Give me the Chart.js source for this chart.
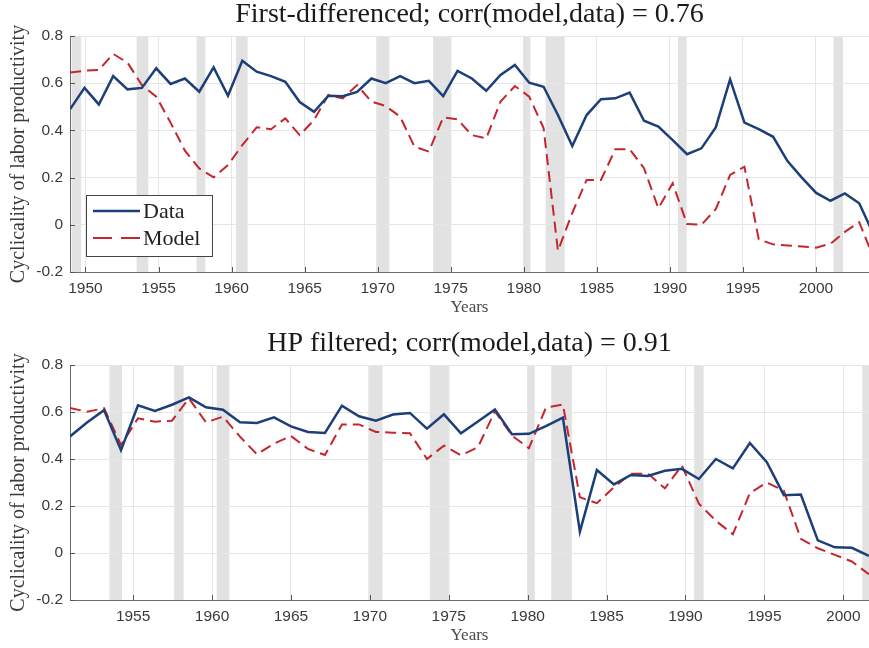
<!DOCTYPE html>
<html>
<head>
<meta charset="utf-8">
<script src="https://cdn.jsdelivr.net/npm/chart.js@4.4.0/dist/chart.umd.min.js"></script>
<style>
    body { margin: 0; background: #fff; }
    .painel { width: 869px; height: 324px; }
</style>
</head>
<body>
<div class="painel"><canvas id="graficoFD" width="869" height="324"></canvas></div>
<div class="painel"><canvas id="graficoHP" width="869" height="324"></canvas></div>
<script>
// painel de cima: first-differenced (57 janelas)
var fdInicio = 1948.95;
var fdPasso = 0.982;
var fdDados = [0.49, 0.58, 0.51, 0.63, 0.574, 0.58, 0.663, 0.597, 0.62, 0.564,
    0.667, 0.547, 0.695, 0.649, 0.63, 0.606, 0.52, 0.479, 0.547, 0.545,
    0.563, 0.62, 0.60, 0.63, 0.60, 0.61, 0.545, 0.652, 0.62, 0.568,
    0.635, 0.677, 0.602, 0.585, 0.465, 0.334, 0.465, 0.532, 0.536, 0.56,
    0.441, 0.416, 0.359, 0.299, 0.324, 0.413, 0.616, 0.433, 0.405, 0.373,
    0.27, 0.2, 0.135, 0.102, 0.133, 0.091, -0.04];
var fdModelo = [0.645, 0.653, 0.656, 0.724, 0.687, 0.592, 0.543, 0.433, 0.314, 0.239,
    0.201, 0.253, 0.338, 0.413, 0.405, 0.451, 0.38, 0.444, 0.55, 0.536,
    0.592, 0.522, 0.503, 0.458, 0.331, 0.31, 0.455, 0.447, 0.38, 0.366,
    0.522, 0.588, 0.543, 0.41, -0.11, 0.05, 0.19, 0.19, 0.32, 0.32,
    0.24, 0.07, 0.176, 0.003, 0.0, 0.066, 0.211, 0.246, -0.062, -0.083,
    -0.088, -0.092, -0.097, -0.08, -0.03, 0.011, -0.14];
var fdTicks = [1950, 1955, 1960, 1965, 1970, 1975, 1980, 1985, 1990, 1995, 2000];

// painel de baixo: HP filtered (48 janelas)
var hpInicio = 1951.0;
var hpPasso = 1.077;
var hpDados = [0.496, 0.555, 0.608, 0.438, 0.628, 0.605, 0.631, 0.662, 0.62, 0.61,
    0.556, 0.553, 0.577, 0.539, 0.515, 0.511, 0.627, 0.582, 0.563, 0.589,
    0.596, 0.529, 0.59, 0.509, 0.56, 0.611, 0.505, 0.507, 0.54, 0.576,
    0.091, 0.353, 0.292, 0.332, 0.328, 0.35, 0.358, 0.315, 0.4, 0.36,
    0.468, 0.386, 0.246, 0.249, 0.054, 0.024, 0.022, -0.012];
var hpModelo = [0.617, 0.601, 0.616, 0.46, 0.573, 0.559, 0.563, 0.658, 0.556, 0.58,
    0.495, 0.42, 0.465, 0.498, 0.443, 0.417, 0.547, 0.547, 0.515, 0.512,
    0.51, 0.40, 0.457, 0.416, 0.45, 0.603, 0.5, 0.446, 0.618, 0.632,
    0.237, 0.212, 0.28, 0.337, 0.338, 0.275, 0.372, 0.21, 0.137, 0.08,
    0.255, 0.3, 0.265, 0.06, 0.02, -0.008, -0.036, -0.09];
var hpTicks = [1955, 1960, 1965, 1970, 1975, 1980, 1985, 1990, 1995, 2000];

var yTicks = [-0.2, 0, 0.2, 0.4, 0.6, 0.8];

// recessoes (faixas cinza)
var recInicio = [1949.05, 1953.5, 1957.6, 1960.3, 1969.9, 1973.8, 1980.0, 1981.5, 1990.55, 2001.2];
var recFim = [1949.7, 1954.3, 1958.2, 1961.1, 1970.8, 1975.05, 1980.45, 1982.8, 1991.15, 2001.85];

var corDados = '#1d3f78';
var corModelo = '#c4262e';

Chart.defaults.font.family = 'Liberation Sans';
Chart.defaults.font.size = 15.5;
Chart.defaults.color = '#3a3a3a';

function montarPontos(inicio, passo, valores) {
    return valores.map(function(v, i) {
        return { x: inicio + i * passo, y: v };
    });
}

var faixasRecessao = {
    id: 'faixasRecessao',
    beforeDraw: function(chart) {
        var ctx = chart.ctx, area = chart.chartArea, eixo = chart.scales.x;
        ctx.save();
        ctx.fillStyle = '#e2e2e2';
        for (var i = 0; i < recInicio.length; i++) {
            var x0 = Math.max(eixo.getPixelForValue(recInicio[i]), area.left);
            var x1 = Math.min(eixo.getPixelForValue(recFim[i]), area.right);
            if (x1 > x0) ctx.fillRect(x0, area.top, x1 - x0, area.bottom - area.top);
        }
        ctx.restore();
    }
};

var marcasInternas = {
    id: 'marcasInternas',
    afterDraw: function(chart) {
        var ctx = chart.ctx, area = chart.chartArea;
        var ex = chart.scales.x, ey = chart.scales.y;
        ctx.save();
        ctx.strokeStyle = '#555';
        ctx.lineWidth = 1;
        ctx.beginPath();
        ex.ticks.forEach(function(t) {
            var px = Math.round(ex.getPixelForValue(t.value)) + 0.5;
            ctx.moveTo(px, area.bottom);
            ctx.lineTo(px, area.bottom - 5);
        });
        ey.ticks.forEach(function(t) {
            var py = Math.round(ey.getPixelForValue(t.value)) + 0.5;
            ctx.moveTo(area.left, py);
            ctx.lineTo(area.left + 5, py);
        });
        ctx.stroke();
        ctx.restore();
    }
};

// titulo centrado na area do grafico
var tituloCentrado = {
    id: 'tituloCentrado',
    afterDraw: function(chart, args, opts) {
        var ctx = chart.ctx, area = chart.chartArea;
        ctx.save();
        ctx.font = '28px "Liberation Serif"';
        ctx.fillStyle = '#1a1a1a';
        ctx.textAlign = 'center';
        ctx.textBaseline = 'middle';
        ctx.fillText(opts.texto, (area.left + area.right) / 2, area.top - 21.5);
        ctx.restore();
    }
};

var legendaDentro = {
    id: 'legendaDentro',
    afterDraw: function(chart) {
        var ctx = chart.ctx, area = chart.chartArea;
        var w = 126, h = 61;
        var bx = area.left + 16, by = area.bottom - 16 - h;
        ctx.save();
        ctx.fillStyle = '#fff';
        ctx.fillRect(bx, by, w, h);
        ctx.strokeStyle = '#444';
        ctx.lineWidth = 1;
        ctx.strokeRect(bx + 0.5, by + 0.5, w, h);
        ctx.font = '22px "Liberation Serif"';
        ctx.textBaseline = 'middle';
        chart.data.datasets.forEach(function(ds, i) {
            var ly = by + 16 + i * 27;
            ctx.strokeStyle = ds.borderColor;
            ctx.lineWidth = ds.borderWidth;
            ctx.setLineDash(ds.borderDash ? [19, 9] : []);
            ctx.beginPath();
            ctx.moveTo(bx + 7, ly);
            ctx.lineTo(bx + 54, ly);
            ctx.stroke();
            ctx.setLineDash([]);
            ctx.fillStyle = '#222';
            ctx.fillText(ds.label, bx + 57, ly + 1);
        });
        ctx.restore();
    }
};

function criarGrafico(idCanvas, titulo, pontosDados, pontosModelo, xMin, xMax, ticksX, ajuste, extras) {
    var ctx = document.getElementById(idCanvas).getContext('2d');
    return new Chart(ctx, {
        type: 'line',
        data: {
            datasets: [{
                label: 'Data',
                data: pontosDados,
                borderColor: corDados,
                borderWidth: 2.5,
                pointRadius: 0,
                tension: 0
            }, {
                label: 'Model',
                data: pontosModelo,
                borderColor: corModelo,
                borderWidth: 2,
                borderDash: [11, 6],
                pointRadius: 0,
                tension: 0
            }]
        },
        options: {
            responsive: false,
            animation: false,
            layout: { padding: { top: ajuste.topo, left: 0, right: 0, bottom: 0 } },
            plugins: {
                legend: { display: false },
                tooltip: { enabled: false },
                title: { display: false },
                tituloCentrado: { texto: titulo }
            },
            scales: {
                x: {
                    type: 'linear',
                    min: xMin,
                    max: xMax,
                    bounds: 'data',
                    afterFit: function(s) { s.height = ajuste.alturaX; },
                    afterBuildTicks: function(s) {
                        s.ticks = ticksX.map(function(v) { return { value: v }; });
                    },
                    ticks: {
                        padding: 7,
                        maxRotation: 0,
                        autoSkip: false,
                        callback: function(v) { return String(v); }
                    },
                    grid: { color: '#e6e6e6', drawTicks: false },
                    border: { color: '#6b6b6b' },
                    title: {
                        display: true,
                        text: 'Years',
                        color: '#4a4a4a',
                        font: { family: 'Liberation Serif', size: 17 },
                        padding: { top: 0, bottom: ajuste.anosBase }
                    }
                },
                y: {
                    min: -0.2,
                    max: 0.8,
                    bounds: 'data',
                    afterFit: function(s) { s.width = 70; },
                    afterBuildTicks: function(s) {
                        s.ticks = yTicks.map(function(v) { return { value: v }; });
                    },
                    ticks: {
                        padding: 7,
                        callback: function(v) { return v === 0 ? '0' : v.toFixed(1); }
                    },
                    grid: { color: '#e6e6e6', drawTicks: false },
                    border: { color: '#6b6b6b' },
                    title: {
                        display: true,
                        text: 'Cyclicality of labor productivity',
                        color: '#3a3a3a',
                        font: { family: 'Liberation Serif', size: 20 },
                        padding: { top: 6.5, bottom: 0 }
                    }
                }
            }
        },
        plugins: [faixasRecessao, marcasInternas, tituloCentrado].concat(extras)
    });
}

criarGrafico('graficoFD', 'First-differenced; corr(model,data) = 0.76',
    montarPontos(fdInicio, fdPasso, fdDados), montarPontos(fdInicio, fdPasso, fdModelo),
    1948.94, 2003.63, fdTicks,
    { topo: 36, alturaX: 52, anosBase: 5.8 },
    [legendaDentro]);

criarGrafico('graficoHP', 'HP filtered; corr(model,data) = 0.91',
    montarPontos(hpInicio, hpPasso, hpDados), montarPontos(hpInicio, hpPasso, hpModelo),
    1951.0, 2001.63, hpTicks,
    { topo: 41, alturaX: 48, anosBase: 1.8 },
    []);
</script>
</body>
</html>
